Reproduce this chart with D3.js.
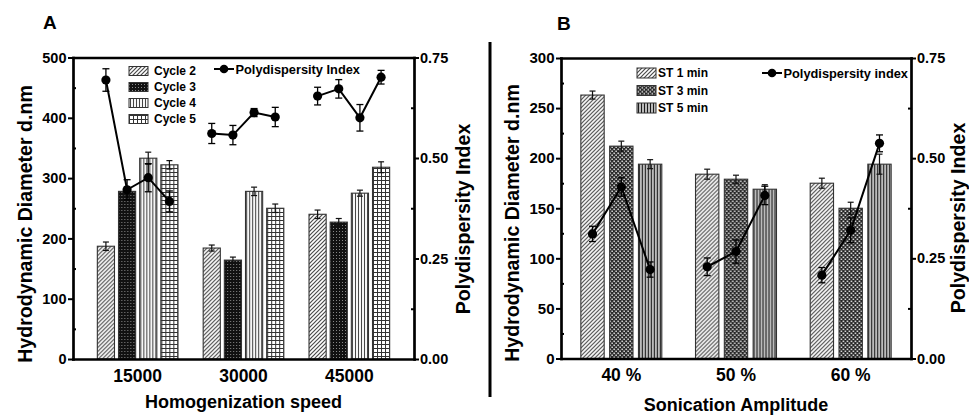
<!DOCTYPE html>
<html>
<head>
<meta charset="utf-8">
<script src="https://cdn.jsdelivr.net/npm/d3@7"></script>
<style>
  body { margin: 0; background: #fff; }
  svg text { font-family: "Liberation Sans", Arial, Helvetica, sans-serif; font-weight: bold; fill: #000; }
</style>
</head>
<body>
<div id="chart"></div>
<script>
// ---- panel A : homogenization speed ----
var speedLabels = ["15000", "30000", "45000"];
var cycleNames = ["Cycle 2", "Cycle 3", "Cycle 4", "Cycle 5"];
var sizeA    = [[187, 278, 333, 322], [184, 164, 278, 250], [240, 227, 275, 318]];
var sizeErrA = [[7, 8, 10, 7], [5, 5, 7, 7], [7, 6, 5, 9]];
var pdiA     = [[0.694, 0.421, 0.451, 0.392], [0.561, 0.557, 0.613, 0.602], [0.654, 0.672, 0.600, 0.701]];
var pdiErrA  = [[0.028, 0.025, 0.035, 0.026], [0.025, 0.024, 0.010, 0.024], [0.022, 0.023, 0.033, 0.017]];
var yTicksA  = [0, 100, 200, 300, 400, 500];
var yMinorA  = [50, 150, 250, 350, 450];

// ---- panel B : sonication amplitude ----
var ampLabels = ["40 %", "50 %", "60 %"];
var timeNames = ["ST 1 min", "ST 3 min", "ST 5 min"];
var sizeB    = [[263, 212, 194], [184, 179, 169], [175, 150, 194]];
var sizeErrB = [[4, 5, 4.5], [5, 4, 4.5], [5, 6, 10]];
var pdiB     = [[0.311, 0.428, 0.222], [0.229, 0.267, 0.407], [0.208, 0.320, 0.537]];
var pdiErrB  = [[0.019, 0.023, 0.019], [0.022, 0.029, 0.023], [0.019, 0.031, 0.021]];
var yTicksB  = [0, 50, 100, 150, 200, 250, 300];
var yMinorB  = [25, 75, 125, 175, 225, 275];

var pdiTicks = [0, 0.25, 0.5, 0.75];
var pdiMinor = [0.125, 0.375, 0.625];

var svg = d3.select("#chart").append("svg")
    .attr("width", 969)
    .attr("height", 416);

// fill patterns
var defs = svg.append("defs");
function pattern(id, size, bg) {
    var p = defs.append("pattern")
        .attr("id", id)
        .attr("patternUnits", "userSpaceOnUse")
        .attr("width", size).attr("height", size);
    p.append("rect").attr("width", size).attr("height", size).attr("fill", bg);
    return p;
}
pattern("diag", 4, "#fff").append("path")
    .attr("d", "M0,4L4,0M-1,1L1,-1M3,5L5,3")
    .attr("stroke", "#4a4a4a").attr("stroke-width", 1.2);
var dA = pattern("dotsA", 3, "#111");
dA.append("rect").attr("x", 0).attr("y", 0).attr("width", 1).attr("height", 1).attr("fill", "#888");
var dB = pattern("dotsB", 4, "#222");
dB.append("rect").attr("x", 0.5).attr("y", 0.5).attr("width", 1.6).attr("height", 1.6).attr("fill", "#e6e6e6");
dB.append("rect").attr("x", 2.5).attr("y", 2.5).attr("width", 1.6).attr("height", 1.6).attr("fill", "#e6e6e6");
pattern("vertA", 3, "#fff").append("path")
    .attr("d", "M1.5,0V3").attr("stroke", "#444").attr("stroke-width", 1.1);
pattern("vertB", 3, "#fff").append("path")
    .attr("d", "M1.5,0V3").attr("stroke", "#1a1a1a").attr("stroke-width", 1.6);
pattern("grid", 4, "#fff").append("path")
    .attr("d", "M0,0.5H4M0.5,0V4").attr("stroke", "#333").attr("stroke-width", 1);

function drawPanel(p) {
    var g = svg.append("g");

    var x0 = d3.scaleBand().domain(p.cats).range([p.left, p.right])
        .paddingInner(p.pin).paddingOuter(p.pout);
    var x1 = d3.scaleBand().domain(p.series).range([0, x0.bandwidth()]).paddingInner(0.19);
    var y = d3.scaleLinear().domain([0, p.yMax]).range([p.bottom, p.top]);
    var y2 = d3.scaleLinear().domain([0, 0.75]).range([p.bottom, p.top]);

    var rows = p.cats.map(function(c, i) {
        return {cat: c, vals: p.series.map(function(s, j) {
            return {s: s, j: j, v: p.size[i][j], e: p.sizeErr[i][j], pdi: p.pdi[i][j], pe: p.pdiErr[i][j]};
        })};
    });

    var grp = g.selectAll(".grp").data(rows).enter().append("g")
        .attr("transform", function(d) { return "translate(" + x0(d.cat) + ",0)"; });

    grp.selectAll("rect").data(function(d) { return d.vals; }).enter().append("rect")
        .attr("x", function(d) { return x1(d.s); })
        .attr("y", function(d) { return y(d.v); })
        .attr("width", x1.bandwidth())
        .attr("height", function(d) { return y(0) - y(d.v); })
        .attr("fill", function(d) { return "url(#" + p.fills[d.j] + ")"; })
        .attr("stroke", "#333").attr("stroke-width", 1.1);

    // bar error bars
    var eb = grp.selectAll(".eb").data(function(d) { return d.vals; }).enter().append("g")
        .attr("stroke", "#111").attr("stroke-width", 1.2);
    eb.append("line")
        .attr("x1", function(d) { return x1(d.s) + x1.bandwidth() / 2; })
        .attr("x2", function(d) { return x1(d.s) + x1.bandwidth() / 2; })
        .attr("y1", function(d) { return y(d.v + d.e); })
        .attr("y2", function(d) { return y(d.v - d.e); });
    [1, -1].forEach(function(sg) {
        eb.append("line")
            .attr("x1", function(d) { return x1(d.s) + x1.bandwidth() / 2 - 3; })
            .attr("x2", function(d) { return x1(d.s) + x1.bandwidth() / 2 + 3; })
            .attr("y1", function(d) { return y(d.v + sg * d.e); })
            .attr("y2", function(d) { return y(d.v + sg * d.e); });
    });

    // axes
    var axL = g.append("g").attr("transform", "translate(" + p.left + ",0)")
        .call(d3.axisLeft(y).tickValues(p.yTicks).tickSizeInner(5).tickSizeOuter(0).tickPadding(1.5));
    axL.selectAll("text").style("font-size", p.tickFont + "px");
    g.append("g").attr("transform", "translate(" + p.left + ",0)")
        .call(d3.axisRight(y).tickValues(p.yMinor).tickSize(3).tickFormat(""))
        .select(".domain").remove();

    var axR = g.append("g").attr("transform", "translate(" + p.right + ",0)")
        .call(d3.axisRight(y2).tickValues(pdiTicks).tickFormat(d3.format(".2f"))
            .tickSizeInner(5).tickSizeOuter(0).tickPadding(1));
    axR.selectAll("text").style("font-size", "14.5px");
    g.append("g").attr("transform", "translate(" + p.right + ",0)")
        .call(d3.axisLeft(y2).tickValues(pdiMinor).tickSize(3).tickFormat(""))
        .select(".domain").remove();

    var axB = g.append("g").attr("transform", "translate(0," + p.bottom + ")")
        .call(d3.axisBottom(x0).tickSize(0).tickPadding(10.5));
    axB.selectAll("text").style("font-size", "17.5px");
    g.append("g").attr("transform", "translate(0," + p.top + ")")
        .call(d3.axisTop(x0).tickSize(0).tickFormat(""));

    g.selectAll(".domain").attr("stroke-width", 2.7).attr("stroke-linecap", "square");
    g.selectAll(".tick line").attr("stroke-width", 2);
    g.selectAll(".tick text").style("font-family", null);

    // polydispersity lines, one per group
    var line = d3.line()
        .x(function(d) { return x1(d.s) + x1.bandwidth() / 2; })
        .y(function(d) { return y2(d.pdi); });
    var pg = g.selectAll(".pg").data(rows).enter().append("g")
        .attr("transform", function(d) { return "translate(" + x0(d.cat) + ",0)"; });
    pg.append("path")
        .attr("d", function(d) { return line(d.vals); })
        .attr("fill", "none").attr("stroke", "#000").attr("stroke-width", 2);
    var pe = pg.selectAll(".pe").data(function(d) { return d.vals; }).enter().append("g")
        .attr("stroke", "#000").attr("stroke-width", 1.3);
    pe.append("line")
        .attr("x1", function(d) { return x1(d.s) + x1.bandwidth() / 2; })
        .attr("x2", function(d) { return x1(d.s) + x1.bandwidth() / 2; })
        .attr("y1", function(d) { return y2(d.pdi + d.pe); })
        .attr("y2", function(d) { return y2(d.pdi - d.pe); });
    [1, -1].forEach(function(sg) {
        pe.append("line")
            .attr("x1", function(d) { return x1(d.s) + x1.bandwidth() / 2 - 3.5; })
            .attr("x2", function(d) { return x1(d.s) + x1.bandwidth() / 2 + 3.5; })
            .attr("y1", function(d) { return y2(d.pdi + sg * d.pe); })
            .attr("y2", function(d) { return y2(d.pdi + sg * d.pe); });
    });
    pg.selectAll("circle").data(function(d) { return d.vals; }).enter().append("circle")
        .attr("cx", function(d) { return x1(d.s) + x1.bandwidth() / 2; })
        .attr("cy", function(d) { return y2(d.pdi); })
        .attr("r", 4.6).attr("fill", "#000");

    // legend
    var lg = g.selectAll(".lg").data(p.series).enter().append("g")
        .attr("transform", function(d, i) { return "translate(" + p.legX + "," + (p.legY + i * p.legStep) + ")"; });
    lg.append("rect")
        .attr("x", 0).attr("y", -p.boxH / 2).attr("width", 19).attr("height", p.boxH)
        .attr("fill", function(d, i) { return "url(#" + p.fills[i] + ")"; })
        .attr("stroke", "#333").attr("stroke-width", 1);
    lg.append("text").attr("x", p.legTextDx).attr("dy", "0.36em")
        .style("font-size", "12px").text(function(d) { return d; });

    var pl = g.append("g").attr("transform", "translate(" + p.pdiLegX + "," + p.pdiLegY + ")");
    pl.append("line").attr("x1", 0).attr("x2", 20).attr("stroke", "#000").attr("stroke-width", 2);
    pl.append("circle").attr("cx", 10).attr("r", 4.3).attr("fill", "#000");
    pl.append("text").attr("x", 21.5).attr("dy", "0.36em").style("font-size", "12.8px").text(p.pdiName);

    // titles
    g.append("text").attr("x", p.panelX).attr("y", p.panelY).style("font-size", "19px").text(p.panel);
    g.append("text").attr("x", (p.left + p.right) / 2).attr("y", p.xTitleY)
        .attr("text-anchor", "middle").style("font-size", "18px").text(p.xTitle);
    g.append("text").attr("transform", "translate(" + p.yTitleX + "," + p.yTitleCY + ") rotate(-90)")
        .attr("text-anchor", "middle").attr("dy", "0.35em").style("font-size", "19.6px")
        .text("Hydrodynamic Diameter d.nm");
    g.append("text").attr("transform", "translate(" + p.y2TitleX + "," + p.y2TitleCY + ") rotate(-90)")
        .attr("text-anchor", "middle").attr("dy", "0.35em").style("font-size", "19.6px")
        .text("Polydispersity Index");
}

drawPanel({
    panel: "A", panelX: 43, panelY: 29,
    cats: speedLabels, series: cycleNames,
    size: sizeA, sizeErr: sizeErrA, pdi: pdiA, pdiErr: pdiErrA,
    fills: ["diag", "dotsA", "vertA", "grid"],
    yMax: 500, yTicks: yTicksA, yMinor: yMinorA, tickFont: 14.5,
    left: 73, right: 414, top: 57.5, bottom: 359, pin: 0.238, pout: 0.23,
    legX: 129, legY: 71, legStep: 16, boxH: 9, legTextDx: 25,
    pdiLegX: 214, pdiLegY: 69, pdiName: "Polydispersity Index",
    xTitle: "Homogenization speed", xTitleY: 408,
    yTitleX: 25, yTitleCY: 224, y2TitleX: 463, y2TitleCY: 219
});

drawPanel({
    panel: "B", panelX: 557, panelY: 30,
    cats: ampLabels, series: timeNames,
    size: sizeB, sizeErr: sizeErrB, pdi: pdiB, pdiErr: pdiErrB,
    fills: ["diag", "dotsB", "vertB"],
    yMax: 300, yTicks: yTicksB, yMinor: yMinorB, tickFont: 15,
    left: 561, right: 911, top: 58, bottom: 358.5, pin: 0.294, pout: 0.173,
    legX: 637, legY: 73, legStep: 17.5, boxH: 10, legTextDx: 21,
    pdiLegX: 762, pdiLegY: 73, pdiName: "Polydispersity index",
    xTitle: "Sonication Amplitude", xTitleY: 411,
    yTitleX: 512, yTitleCY: 223, y2TitleX: 958, y2TitleCY: 218
});

// divider between the two panels
svg.append("line")
    .attr("x1", 490).attr("x2", 490).attr("y1", 42).attr("y2", 397)
    .attr("stroke", "#000").attr("stroke-width", 3);
</script>
</body>
</html>
